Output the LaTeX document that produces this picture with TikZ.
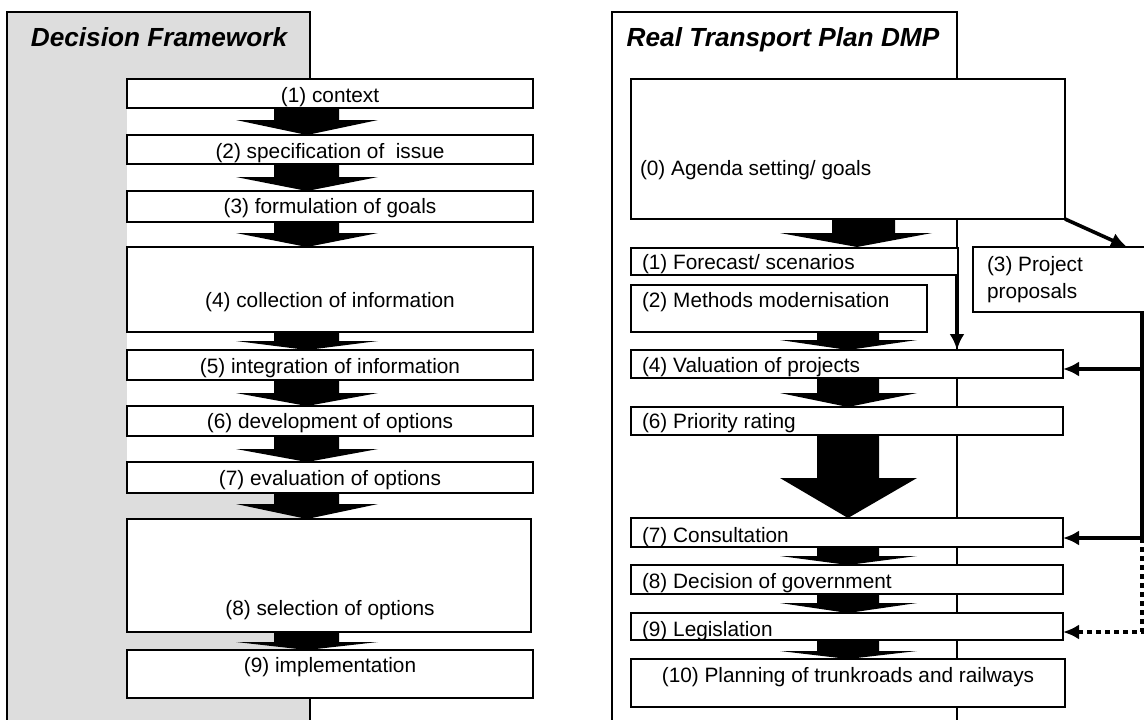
\documentclass[tikz,border=0pt]{standalone}
\usepackage{fontspec}
\setmainfont{Liberation Sans}
\usetikzlibrary{arrows.meta}
\definecolor{panelgrey}{HTML}{DDDDDD}
\newcommand\barrow[8]{\fill[black] (#1,#3) -- (#2,#3) -- (#2,#4) -- (#6,#4) -- (#7,#8) -- (#5,#4) -- (#1,#4) -- cycle;}
\begin{document}
\begin{tikzpicture}[x=1pt,y=-1pt,
  panel/.style={draw=black,line width=1.5pt,rectangle,inner sep=0,outer sep=0,anchor=north west},
  box/.style={draw=black,fill=white,line width=1.5pt,rectangle,inner sep=0,outer sep=0,anchor=north west},
  txt/.style={inner sep=0,outer sep=0,font=\fontsize{20.8}{27}\selectfont},
  ttl/.style={inner sep=0,outer sep=0,font=\fontsize{26.2}{30}\selectfont\bfseries\itshape,anchor=base},
  conn/.style={draw=black,line width=3.6pt,-{Latex[length=16pt,width=15pt]}},
  bus/.style={draw=black,line width=3.6pt}
]
\useasboundingbox (0,0) rectangle (1144,720);
\clip (0,0) rectangle (1144,720);

% panels
\node[panel,fill=panelgrey,minimum width=303,minimum height=760] (lp) at (7,12) {};
\node[panel,fill=white,minimum width=345,minimum height=760] (rp) at (612,12) {};
\fill[white] (127,79) rectangle (533,493);
\node[ttl] (lt) at (159,46) {Decision Framework};
\node[ttl] (rt) at (783,46) {Real Transport Plan DMP};

% left boxes
\node[box,minimum width=406,minimum height=29] (l1) at (127,79) {};
\node[box,minimum width=406,minimum height=29] (l2) at (127,135) {};
\node[box,minimum width=406,minimum height=31] (l3) at (127,191) {};
\node[box,minimum width=406,minimum height=85] (l4) at (127,247) {};
\node[box,minimum width=406,minimum height=30] (l5) at (127,350) {};
\node[box,minimum width=406,minimum height=30] (l6) at (127,406) {};
\node[box,minimum width=406,minimum height=31] (l7) at (127,462) {};
\node[box,minimum width=404,minimum height=113] (l8) at (127,519) {};
\node[box,minimum width=406,minimum height=48] (l9) at (127,650) {};

\node[txt,anchor=base] (tl1) at (330,102) {(1) context};
\node[txt,anchor=base] (tl2) at (330,158) {(2) specification of~ issue};
\node[txt,anchor=base] (tl3) at (330,213) {(3) formulation of goals};
\node[txt,anchor=base] (tl4) at (330,307) {(4) collection of information};
\node[txt,anchor=base] (tl5) at (330,373) {(5) integration of information};
\node[txt,anchor=base] (tl6) at (330,428) {(6) development of options};
\node[txt,anchor=base] (tl7) at (330,485) {(7) evaluation of options};
\node[txt,anchor=base] (tl8) at (330,615) {(8) selection of options};
\node[txt,anchor=base] (tl9) at (330,672) {(9) implementation};

% left block arrows
\barrow{274}{339}{108}{120}{236}{378}{307}{135}
\barrow{274}{339}{164}{177}{236}{378}{307}{191}
\barrow{274}{339}{222}{233}{236}{378}{307}{247}
\barrow{274}{339}{332}{341}{236}{378}{307}{350}
\barrow{274}{339}{380}{393}{236}{378}{307}{406}
\barrow{274}{339}{436}{449}{236}{378}{307}{462}
\barrow{274}{339}{493}{504}{236}{378}{307}{519}
\barrow{274}{339}{632}{642}{236}{378}{307}{650}

% right boxes
\node[box,minimum width=434,minimum height=140] (r0) at (631,79) {};
\node[box,minimum width=327,minimum height=27] (r1) at (631,248) {};
\node[box,minimum width=296,minimum height=47] (r2) at (631,285) {};
\node[box,minimum width=432,minimum height=28] (r4) at (631,350) {};
\node[box,minimum width=432,minimum height=28] (r6) at (631,407) {};
\node[box,minimum width=432,minimum height=29] (r7) at (631,518) {};
\node[box,minimum width=432,minimum height=29] (r8) at (631,565) {};
\node[box,minimum width=432,minimum height=27] (r9) at (631,613) {};
\node[box,minimum width=434,minimum height=48] (r10) at (631,659) {};
\node[box,minimum width=200,minimum height=65] (p3) at (973,247) {};

\node[txt,anchor=base west] (tr0) at (640,175) {(0) Agenda setting/ goals};
\node[txt,anchor=base west] (tr1) at (642,269) {(1) Forecast/ scenarios};
\node[txt,anchor=base west] (tr2) at (642,307) {(2) Methods modernisation};
\begin{scope}
\clip (r4.south west) rectangle (r4.north east);
\node[txt,anchor=base west] (tr4) at (642,372) {(4) Valuation of projects};
\end{scope}
\begin{scope}
\clip (r6.south west) rectangle (r6.north east);
\node[txt,anchor=base west] (tr6) at (642,428) {(6) Priority rating};
\end{scope}
\node[txt,anchor=base west] (tr7) at (642,542) {(7) Consultation};
\begin{scope}
\clip (r8.south west) rectangle (r8.north east);
\node[txt,anchor=base west] (tr8) at (642,588) {(8) Decision of government};
\end{scope}
\begin{scope}
\clip (r9.south west) rectangle (r9.north east);
\node[txt,anchor=base west] (tr9) at (642,636) {(9) Legislation};
\end{scope}
\node[txt,anchor=base] (tr10) at (848,682) {(10) Planning of trunkroads and railways};
\node[txt,anchor=base west,align=left] (tp3) at (987,298) {(3) Project\\proposals};

% right block arrows
\barrow{832}{895}{219}{233}{780}{932}{857}{247}
\barrow{817}{879}{332}{340}{780}{917}{848}{350}
\barrow{817}{879}{378}{393}{780}{917}{848}{407}
\barrow{817}{879}{435}{478}{780}{917}{848}{518}
\barrow{817}{879}{547}{556}{780}{917}{848}{565}
\barrow{817}{879}{594}{603}{780}{917}{848}{613}
\barrow{817}{879}{640}{651}{780}{917}{848}{659}

% connectors
\coordinate (a3) at (1127,247);
\coordinate (bt) at (1142,312);
\coordinate (bA) at (1142,369);
\coordinate (bB) at (1142,538);
\coordinate (bC) at (1142,632);
\draw[conn] (r1.south -| rp.east) -- (r4.north -| rp.east);
\draw[conn] (r0.south east) -- (a3);
\draw[bus] (bt) -- (bB);
\draw[conn] (bA) -- (r4.east |- bA);
\draw[conn] (bB) -- (r7.east |- bB);
\draw[conn,dash pattern=on 5pt off 4pt] (bB) -- (bC) -- (r9.east |- bC);
\end{tikzpicture}
\end{document}
